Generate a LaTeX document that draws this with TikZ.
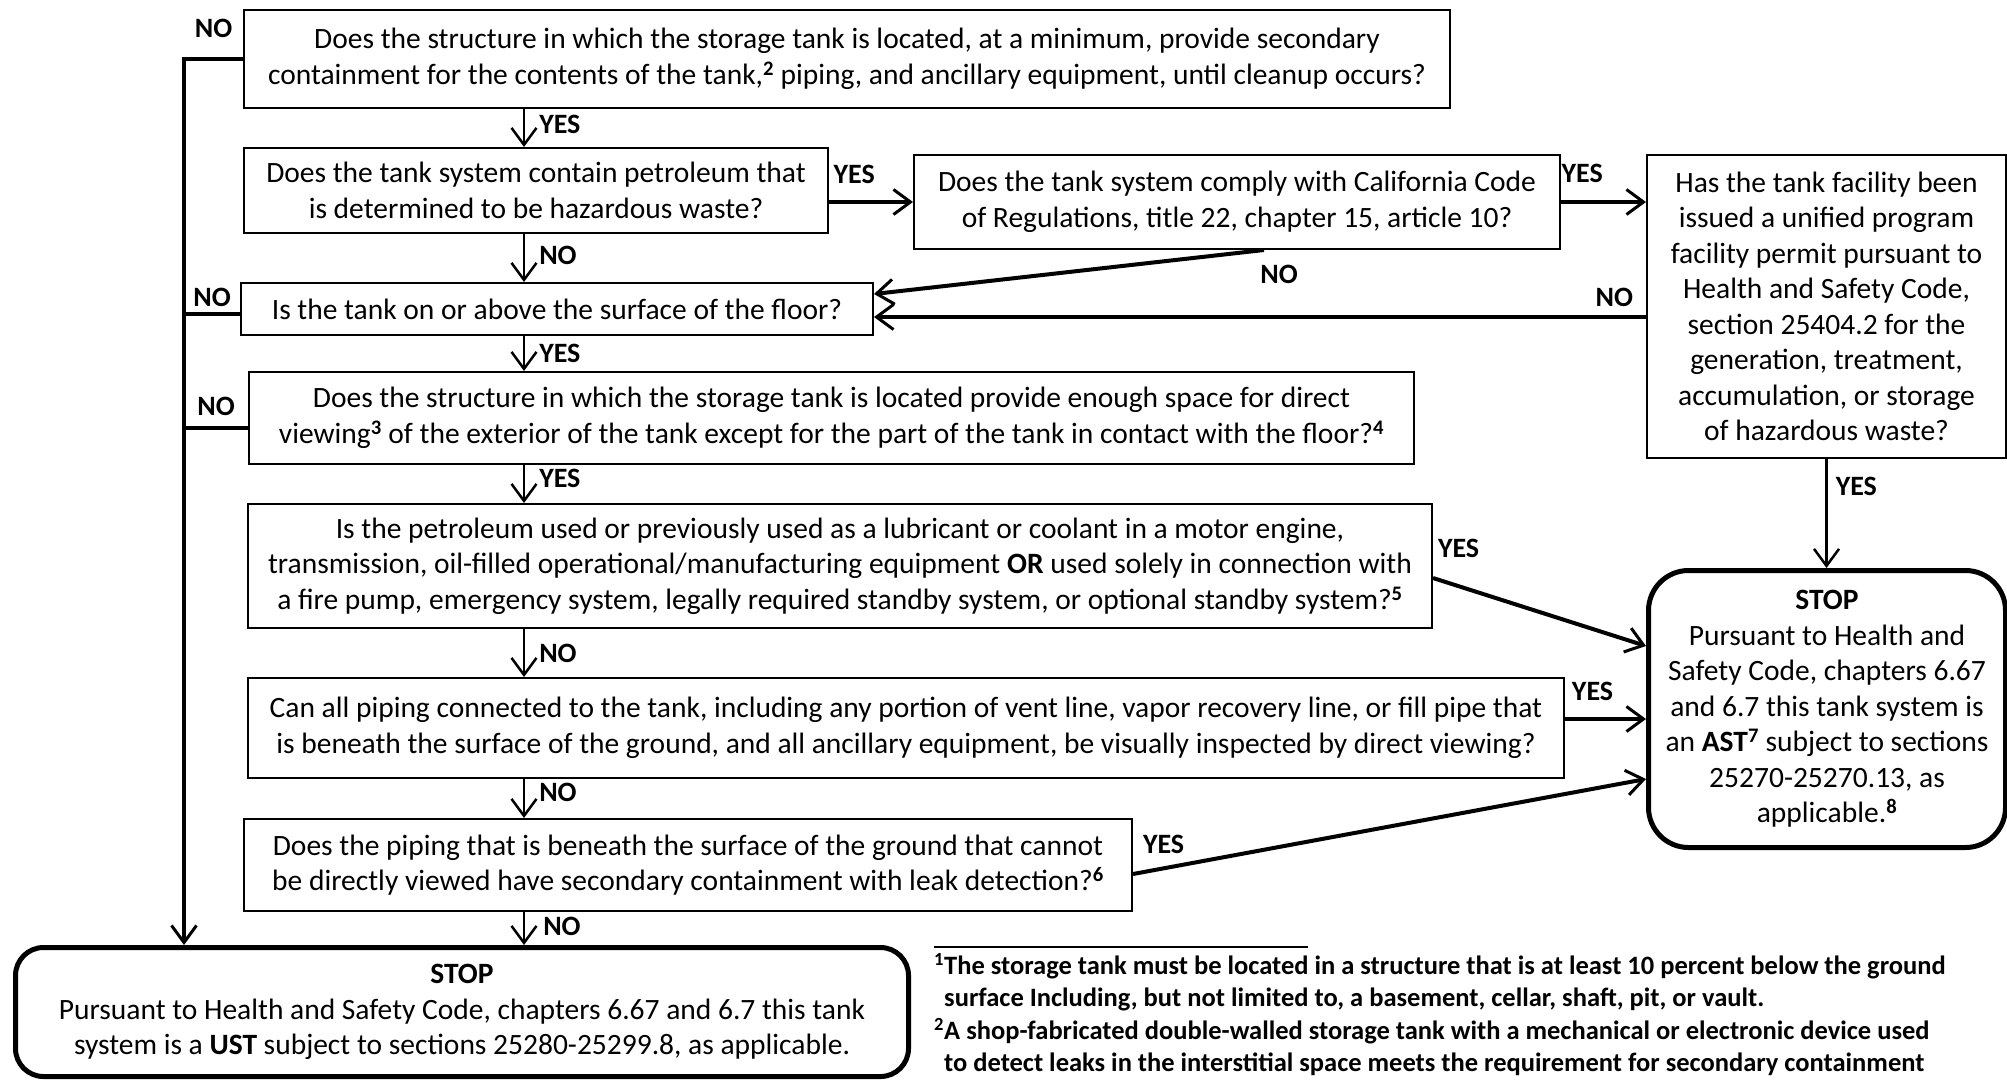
\documentclass[tikz,border=0pt]{standalone}
\usepackage{fontspec}
\setmainfont{Carlito}
\usetikzlibrary{arrows.meta,calc,positioning}
\newcommand{\fnmark}[1]{\textsuperscript{\textbf{#1}}}

\begin{document}
\begin{tikzpicture}[x=1pt,y=-1pt,
    qbox/.style={draw, line width=2pt, rectangle, align=center, inner sep=0pt,
      anchor=north west, font=\fontsize{29.5}{35.5}\selectfont},
    stopbox/.style={draw, line width=5pt, rounded corners=#1, align=center,
      inner sep=0pt, anchor=north west, font=\fontsize{29.5}{35.5}\selectfont},
    lbl/.style={font=\fontsize{28}{30}\selectfont\bfseries, inner sep=2pt},
    flow/.style={line width=4pt, -{Straight Barb[length=17pt,width=25pt,line width=3pt]}},
    flowthin/.style={line width=2.5pt, -{Straight Barb[length=17pt,width=25pt,line width=2.5pt]}},
    railline/.style={line width=4pt}]

  \useasboundingbox (0,0) rectangle (2007,1079);

  % question boxes
  \node[qbox, minimum width=1206pt, minimum height=98pt] (q1) at (243,9)
    {Does the structure in which the storage tank is located, at a minimum, provide secondary\\
     containment for the contents of the tank,\fnmark{2} piping, and ancillary equipment, until cleanup occurs?};
  \node[qbox, minimum width=584pt, minimum height=85pt] (q2) at (243,147)
    {Does the tank system contain petroleum that\\ is determined to be hazardous waste?};
  \node[qbox, minimum width=646pt, minimum height=94pt] (q3) at (913,154)
    {Does the tank system comply with California Code\\ of Regulations, title 22, chapter 15, article 10?};
  \node[qbox, minimum width=359pt, minimum height=303pt] (q4) at (1646,154)
    {Has the tank facility been\\ issued a unified program\\ facility permit pursuant to\\
     Health and Safety Code,\\ section 25404.2 for the\\ generation, treatment,\\
     accumulation, or storage\\ of hazardous waste?};
  \node[qbox, minimum width=632pt, minimum height=52pt] (q5) at (240,282)
    {Is the tank on or above the surface of the floor?};
  \node[qbox, minimum width=1165pt, minimum height=92pt] (q6) at (248,371)
    {Does the structure in which the storage tank is located provide enough space for direct\\
     viewing\fnmark{3} of the exterior of the tank except for the part of the tank in contact with the floor?\fnmark{4}};
  \node[qbox, minimum width=1184pt, minimum height=124pt] (q7) at (247,503)
    {Is the petroleum used or previously used as a lubricant or coolant in a motor engine,\\
     transmission, oil-filled operational/manufacturing equipment \textbf{OR} used solely in connection with\\
     a fire pump, emergency system, legally required standby system, or optional standby system?\fnmark{5}};
  \node[qbox, minimum width=1316pt, minimum height=100pt] (q8) at (247,677)
    {Can all piping connected to the tank, including any portion of vent line, vapor recovery line, or fill pipe that\\
     is beneath the surface of the ground, and all ancillary equipment, be visually inspected by direct viewing?};
  \node[qbox, minimum width=888pt, minimum height=92pt] (q9) at (243,818)
    {Does the piping that is beneath the surface of the ground that cannot\\
     be directly viewed have secondary containment with leak detection?\fnmark{6}};

  % end boxes
  \node[stopbox=40pt, minimum width=357pt, minimum height=277pt] (ast) at (1646,568)
    {\textbf{STOP}\\ Pursuant to Health and\\ Safety Code, chapters 6.67\\ and 6.7 this tank system is\\
     an \textbf{AST}\fnmark{7} subject to sections\\ 25270-25270.13, as\\ applicable.\fnmark{8}};
  \node[stopbox=28pt, minimum width=893pt, minimum height=129pt] (ust) at (13,945)
    {\textbf{STOP}\\ Pursuant to Health and Safety Code, chapters 6.67 and 6.7 this tank\\
     system is a \textbf{UST} subject to sections 25280-25299.8, as applicable.};

  \coordinate (rail) at (184,57);
  \coordinate (spine) at (524,0);
  \coordinate (q5in) at ([yshift=-8pt]q5.east);

  % NO branches down the left side
  \draw[flow] (q1.west) -- (q1.west -| rail) node[lbl, pos=0.5, above=17pt] (no1) {NO}
    -- (rail |- ust.north);
  \draw[railline] ([yshift=-5pt]q5.west) -- ([yshift=-5pt]q5.west -| rail)
    node[lbl, pos=0.5, above=3pt] (no5) {NO};
  \draw[railline] ([yshift=-10pt]q6.west) -- ([yshift=-10pt]q6.west -| rail)
    node[lbl, pos=0.5, above=8pt] (no6) {NO};

  % main column
  \draw[flowthin] (q1.south -| spine) -- (q2.north -| spine)
    node[lbl, pos=0.4, anchor=west, xshift=12pt] (yes1) {YES};
  \draw[flowthin] (q2.south -| spine) -- (q5.north -| spine)
    node[lbl, pos=0.45, anchor=west, xshift=12pt] (no2) {NO};
  \draw[flowthin] (q5.south -| spine) -- (q6.north -| spine)
    node[lbl, pos=0.5, anchor=west, xshift=12pt] (yes5) {YES};
  \draw[flowthin] (q6.south -| spine) -- (q7.north -| spine)
    node[lbl, pos=0.35, anchor=west, xshift=12pt] (yes6) {YES};
  \draw[flowthin] (q7.south -| spine) -- (q8.north -| spine)
    node[lbl, pos=0.5, anchor=west, xshift=12pt] (no7) {NO};
  \draw[flowthin] (q8.south -| spine) -- (q9.north -| spine)
    node[lbl, pos=0.35, anchor=west, xshift=12pt] (no8) {NO};
  \draw[flowthin] (q9.south -| spine) -- (ust.north -| spine)
    node[lbl, pos=0.45, anchor=west, xshift=16pt] (no9) {NO};

  % right side
  \draw[flow] (q2.east |- q3.west) -- (q3.west)
    node[lbl, pos=0.3, above=14pt] (yes2) {YES};
  \draw[flow] (q3.east) -- (q3.east -| q4.west)
    node[lbl, pos=0.25, above=15pt] (yes3) {YES};
  \draw[flow] ([xshift=27pt]q3.south) -- ([yshift=15pt]q5.east)
    node[lbl, pos=0, anchor=north, xshift=15pt, yshift=-11pt] (no3) {NO};
  \draw[flow] (q4.west |- q5in) -- (q5in)
    node[lbl, pos=0, anchor=south east, xshift=-9pt, yshift=6pt] (no4) {NO};
  \draw[flowthin] (q4.south) -- (q4.south |- ast.north)
    node[lbl, pos=0.25, anchor=west, xshift=6pt] (yes4) {YES};
  \draw[flow] ([yshift=-12pt]q7.east) -- ([yshift=63pt]ast.west)
    node[lbl, pos=0, anchor=south west, xshift=1pt, yshift=16pt] (yes7) {YES};
  \draw[flow] ([yshift=9pt]q8.east) -- ([yshift=9pt]q8.east -| ast.west)
    node[lbl, pos=0.34, above=14pt] (yes8) {YES};
  \draw[flow] ([yshift=-9pt]q9.east) -- ([yshift=-70pt]ast.west)
    node[lbl, pos=0, anchor=south west, xshift=6pt, yshift=16pt] (yes9) {YES};

  % footnotes
  \node[anchor=north west, inner sep=0pt, align=left,
    font=\fontsize{26.5}{32.5}\selectfont\bfseries] (notes) at (934,953)
    {\makebox[10pt][l]{\fnmark{1}}The storage tank must be located in a structure that is at least 10 percent below the ground\\
     \hspace*{10pt}surface Including, but not limited to, a basement, cellar, shaft, pit, or vault.\\
     \makebox[10pt][l]{\fnmark{2}}A shop-fabricated double-walled storage tank with a mechanical or electronic device used\\
     \hspace*{10pt}to detect leaks in the interstitial space meets the requirement for secondary containment};
  \draw[line width=1.5pt] (notes.north west) ++(0,-6) -- ++(374,0);
\end{tikzpicture}
\end{document}
